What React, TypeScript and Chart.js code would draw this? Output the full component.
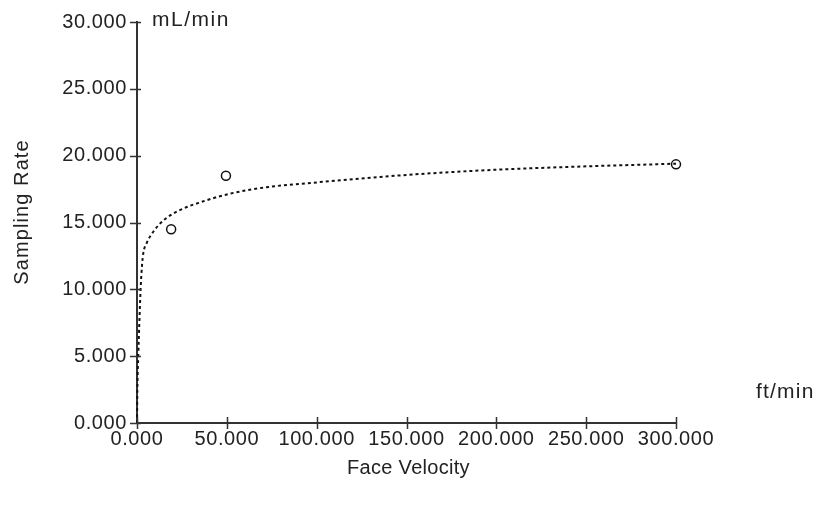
import React, { useEffect, useRef } from "react";
import { Chart, registerables } from "chart.js";

Chart.register(...registerables);

// Fitted curve
const curveX = [0, 0.2, 0.7, 1.3, 2, 2.8, 3.5, 5.5, 8, 12, 17, 25, 35, 50, 70, 100, 130, 160, 200, 250, 300];
const curveY = [0, 2.5, 5, 7.5, 10, 11.8, 12.7, 13.5, 14.1, 14.8, 15.4, 16.0, 16.5, 17.1, 17.6, 18.0, 18.35, 18.65, 18.95, 19.2, 19.4];

// Measured points
const pointX = [19, 49.5, 300];
const pointY = [14.5, 18.5, 19.35];

const yTicks = [0, 5, 10, 15, 20, 25, 30];
const xTicks = [0, 50, 100, 150, 200, 250, 300];

const yTitle = "Sampling Rate";
const xTitle = "Face Velocity";
const yUnit = "mL/min";
const xUnit = "ft/min";

const FONT = "'Liberation Sans', Arial, sans-serif";
const FSIZE = 20;
const TEXT = "#222";
const AXIS = "#333";

export default function App() {
  const ref = useRef<HTMLCanvasElement>(null);
  useEffect(() => {
    const canvas = ref.current!;
    const decor = {
      id: "decor",
      beforeDraw(chart: any) {
        (chart.ctx as any).letterSpacing = "0.6px";
      },
      afterDraw(chart: any) {
        const ctx = chart.ctx;
        const xs = chart.scales.x;
        const ys = chart.scales.y;
        const area = chart.chartArea;
        ctx.save();
        ctx.strokeStyle = AXIS;
        ctx.lineWidth = 1.5;
        ctx.beginPath();
        yTicks.forEach((v) => {
          const py = Math.round(ys.getPixelForValue(v)) + 0.5;
          ctx.moveTo(area.left - 7, py);
          ctx.lineTo(area.left + 4, py);
        });
        xTicks.forEach((v) => {
          const px = Math.round(xs.getPixelForValue(v)) + 0.5;
          ctx.moveTo(px, area.bottom - 6);
          ctx.lineTo(px, area.bottom + 6);
        });
        ctx.stroke();
        ctx.fillStyle = TEXT;
        ctx.textBaseline = "middle";
        ctx.textAlign = "left";
        ctx.font = `21px ${FONT}`;
        (ctx as any).letterSpacing = "1.5px";
        ctx.fillText(yUnit, area.left + 15, ys.getPixelForValue(30) - 2);
        (ctx as any).letterSpacing = "1.2px";
        ctx.fillText(xUnit, area.right + 80, area.bottom - 31);
        ctx.font = `${FSIZE}px ${FONT}`;
        ctx.textAlign = "center";
        (ctx as any).letterSpacing = "0.3px";
        ctx.fillText(xTitle, (area.left + area.right) / 2 + 2, 468);
        (ctx as any).letterSpacing = "1.1px";
        ctx.translate(22, 212);
        ctx.rotate(-Math.PI / 2);
        ctx.fillText(yTitle, 0, 0);
        ctx.restore();
      },
    };
    const chart = new Chart(canvas, {
      type: "scatter",
      data: {
        datasets: [
          {
            data: curveX.map((x, i) => ({ x, y: curveY[i] })),
            showLine: true,
            borderColor: "#111",
            borderWidth: 2,
            borderDash: [3, 3],
            pointRadius: 0,
            cubicInterpolationMode: "monotone",
            clip: false,
          } as any,
          {
            data: pointX.map((x, i) => ({ x, y: pointY[i] })),
            showLine: false,
            pointRadius: 4.5,
            pointStyle: "circle",
            backgroundColor: "rgba(255,255,255,0)",
            borderColor: "#111",
            borderWidth: 1.5,
            clip: false,
          } as any,
        ],
      },
      options: {
        animation: false,
        responsive: false,
        devicePixelRatio: 1,
        layout: { padding: { left: 0, right: 143, top: 22, bottom: 0 } },
        plugins: { legend: { display: false }, tooltip: { enabled: false } },
        scales: {
          x: {
            type: "linear",
            min: 0,
            max: 300,
            afterFit: (s: any) => {
              s.height = 84;
            },
            afterBuildTicks: (s: any) => {
              s.ticks = xTicks.map((v) => ({ value: v }));
            },
            grid: { display: false, drawTicks: false },
            border: { display: true, color: AXIS, width: 2 },
            ticks: {
              maxRotation: 0,
              autoSkip: false,
              padding: 4,
              color: TEXT,
              font: { family: FONT, size: FSIZE },
              callback: (v: any) => Number(v).toFixed(3),
            },
          },
          y: {
            type: "linear",
            min: 0,
            max: 30,
            afterFit: (s: any) => {
              s.width = 137;
            },
            afterBuildTicks: (s: any) => {
              s.ticks = yTicks.map((v) => ({ value: v }));
            },
            grid: { display: false, drawTicks: false },
            border: { display: true, color: AXIS, width: 2 },
            ticks: {
              autoSkip: false,
              padding: 10,
              color: TEXT,
              font: { family: FONT, size: FSIZE },
              callback: (v: any) => Number(v).toFixed(3),
            },
          },
        },
      },
      plugins: [decor],
    });
    return () => chart.destroy();
  }, []);
  return (
    <div style={{ position: "fixed", left: 0, top: 0, width: 819, height: 507, background: "#fff" }}>
      <canvas ref={ref} width={819} height={507} />
    </div>
  );
}
